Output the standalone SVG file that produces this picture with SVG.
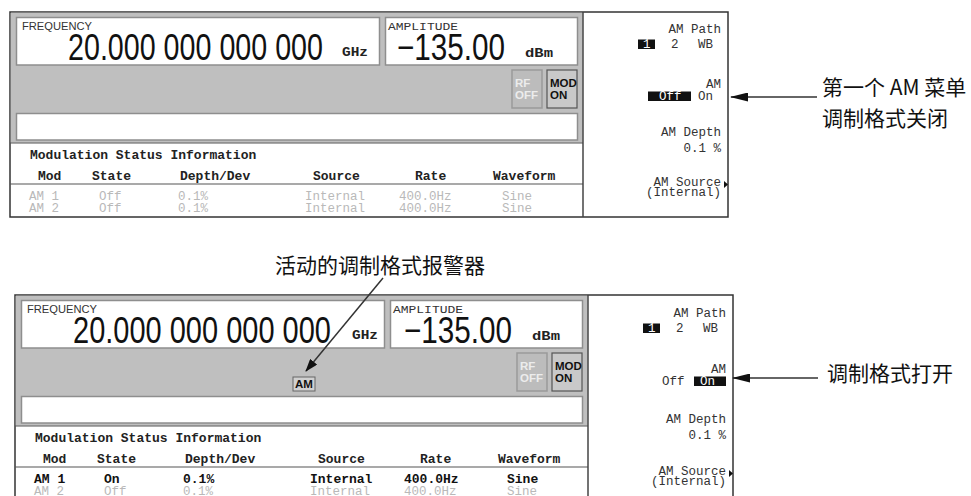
<svg xmlns="http://www.w3.org/2000/svg" width="971" height="496" viewBox="0 0 971 496">
<style>
.frame{fill:#fff;stroke:#333;stroke-width:1.5}
.gray{fill:#bfbfbf}
.box{fill:#fff;stroke:#8e8e8e;stroke-width:1.5}
.lbl{font-family:"Liberation Sans",Arial,sans-serif;font-size:11px;fill:#333}
.lblm{font-family:"Liberation Mono",monospace;font-size:11.5px;fill:#333}
.big{font-family:"Liberation Sans",Arial,sans-serif;font-size:37px;fill:#111}
.unit{font-family:"Liberation Mono",monospace;font-weight:bold;font-size:13.5px;fill:#222}
.sk{font-family:"Liberation Mono",monospace;font-size:12.5px;fill:#333;text-anchor:end}
.skl{font-family:"Liberation Mono",monospace;font-size:12.5px;fill:#333}
.inv{font-family:"Liberation Mono",monospace;font-size:12.5px;fill:#fff}
.hl{fill:#111}
.hd{font-family:"Liberation Mono",monospace;font-weight:bold;font-size:13px;fill:#222}
.dim{font-family:"Liberation Mono",monospace;font-size:12.5px;fill:#b9b9b9}
.act{font-family:"Liberation Mono",monospace;font-weight:bold;font-size:13px;fill:#111}
.btnoff{fill:#bcbcbc;stroke:#9a9a9a;stroke-width:1.5}
.btnon{fill:#c9c9c9;stroke:#555;stroke-width:1.2}
.btxt{font-family:"Liberation Sans",Arial,sans-serif;font-weight:bold;font-size:11.5px}
.cn{font-family:"Noto Sans CJK SC","Noto Sans",sans-serif;font-size:21px;fill:#111}
.sep{stroke:#555;stroke-width:1.2}
.conn{stroke:#333;stroke-width:1.5;fill:none}
</style>
<defs>
<marker id="ahBig" markerUnits="userSpaceOnUse" markerWidth="18" markerHeight="9" refX="17" refY="4.5" orient="auto"><path d="M0,0 L18,4.5 L0,9 Z" fill="#111"/></marker>
<marker id="ahSmall" markerUnits="userSpaceOnUse" markerWidth="13" markerHeight="9" refX="12" refY="4.5" orient="auto"><path d="M0,0 L13,4.5 L0,9 Z" fill="#111"/></marker>
</defs>
<rect width="971" height="496" fill="#fff"/>

<g id="panel-top">
 <rect class="frame" x="10" y="12" width="718" height="205"/>
 <rect class="gray" x="10.75" y="12.75" width="572" height="130"/>
 <rect class="box" x="16.5" y="17.5" width="363" height="47.5"/>
 <rect class="box" x="385.5" y="17.5" width="192" height="47.5"/>
 <rect class="box" x="16.5" y="113.5" width="561" height="26.5"/>
 <line class="sep" x1="10" y1="143" x2="583" y2="143"/>
 <line class="sep" x1="10" y1="184" x2="583" y2="184"/>
 <line x1="583" y1="12" x2="583" y2="217" stroke="#444" stroke-width="1.5"/>
 <text class="lbl" x="22" y="30" textLength="70" lengthAdjust="spacingAndGlyphs">FREQUENCY</text>
 <text class="big" x="68" y="60" textLength="255" lengthAdjust="spacingAndGlyphs">20.000 000 000 000</text>
 <text class="unit" x="342" y="56" textLength="26" lengthAdjust="spacingAndGlyphs">GHz</text>
 <text class="lblm" x="388" y="30" textLength="70" lengthAdjust="spacingAndGlyphs">AMPLITUDE</text>
 <text class="big" x="397" y="60" textLength="108" lengthAdjust="spacingAndGlyphs">−135.00</text>
 <text class="unit" x="525" y="57" textLength="28" lengthAdjust="spacingAndGlyphs">dBm</text>
 <rect class="btnoff" x="512" y="70" width="30" height="38"/>
 <text class="btxt" x="515" y="87" fill="#ececec">RF</text>
 <text class="btxt" x="515" y="99" fill="#ececec">OFF</text>
 <rect class="btnon" x="547" y="70" width="30" height="38"/>
 <text class="btxt" x="550" y="87" fill="#111">MOD</text>
 <text class="btxt" x="550" y="99" fill="#111">ON</text>
 <text class="hd" x="30" y="159">Modulation Status Information</text>
 <text class="hd" x="38" y="180">Mod</text>
 <text class="hd" x="92" y="180">State</text>
 <text class="hd" x="180" y="180">Depth/Dev</text>
 <text class="hd" x="313" y="180">Source</text>
 <text class="hd" x="415" y="180">Rate</text>
 <text class="hd" x="493" y="180">Waveform</text>
 <text class="dim" x="29" y="200">AM 1</text>
 <text class="dim" x="99" y="200">Off</text>
 <text class="dim" x="178" y="200">0.1%</text>
 <text class="dim" x="305" y="200">Internal</text>
 <text class="dim" x="399" y="200">400.0Hz</text>
 <text class="dim" x="502" y="200">Sine</text>
 <text class="dim" x="29" y="212">AM 2</text>
 <text class="dim" x="99" y="212">Off</text>
 <text class="dim" x="178" y="212">0.1%</text>
 <text class="dim" x="305" y="212">Internal</text>
 <text class="dim" x="399" y="212">400.0Hz</text>
 <text class="dim" x="502" y="212">Sine</text>
 <g id="softkeys-top">
  <text class="sk" x="721" y="33">AM Path</text>
  <rect class="hl" x="638" y="39.5" width="17" height="9.5"/>
  <text class="inv" x="643" y="48">1</text>
  <text class="skl" x="671" y="48">2</text>
  <text class="skl" x="698" y="48">WB</text>
  <text class="sk" x="721" y="88">AM</text>
  <rect class="hl" x="648" y="91.5" width="43" height="9.5"/>
  <text class="inv" x="659" y="100">Off</text>
  <text class="skl" x="698" y="100">On</text>
  <text class="sk" x="721" y="136">AM Depth</text>
  <text class="sk" x="721" y="152">0.1 %</text>
  <text class="sk" x="721" y="186">AM Source</text>
  <text class="sk" x="721" y="196">(Internal)</text>
  <polygon points="724,181 728,184.5 724,188" fill="#111"/>
 </g>
</g>

<g id="panel-bottom" transform="translate(5,283)">
 <rect class="frame" x="10" y="12" width="718" height="205"/>
 <rect class="gray" x="10.75" y="12.75" width="572" height="130"/>
 <rect class="box" x="16.5" y="17.5" width="363" height="47.5"/>
 <rect class="box" x="385.5" y="17.5" width="192" height="47.5"/>
 <rect class="box" x="16.5" y="113.5" width="561" height="26.5"/>
 <line class="sep" x1="10" y1="143" x2="583" y2="143"/>
 <line class="sep" x1="10" y1="184" x2="583" y2="184"/>
 <line x1="583" y1="12" x2="583" y2="217" stroke="#444" stroke-width="1.5"/>
 <text class="lbl" x="22" y="30" textLength="70" lengthAdjust="spacingAndGlyphs">FREQUENCY</text>
 <text class="big" x="68" y="60" textLength="258" lengthAdjust="spacingAndGlyphs">20.000 000 000 000</text>
 <text class="unit" x="347" y="56" textLength="26" lengthAdjust="spacingAndGlyphs">GHz</text>
 <text class="lblm" x="388" y="30" textLength="70" lengthAdjust="spacingAndGlyphs">AMPLITUDE</text>
 <text class="big" x="399" y="60" textLength="108" lengthAdjust="spacingAndGlyphs">−135.00</text>
 <text class="unit" x="527" y="57" textLength="28" lengthAdjust="spacingAndGlyphs">dBm</text>
 <rect class="btnoff" x="512" y="70" width="30" height="38"/>
 <text class="btxt" x="515" y="87" fill="#ececec">RF</text>
 <text class="btxt" x="515" y="99" fill="#ececec">OFF</text>
 <rect class="btnon" x="547" y="70" width="30" height="38"/>
 <text class="btxt" x="550" y="87" fill="#111">MOD</text>
 <text class="btxt" x="550" y="99" fill="#111">ON</text>
 <g id="annunciator-am">
  <rect x="288" y="94" width="22" height="14" fill="#d0d0d0" stroke="#666" stroke-width="1"/>
  <text class="btxt" x="299" y="105" fill="#111" text-anchor="middle">AM</text>
 </g>
 <text class="hd" x="30" y="159">Modulation Status Information</text>
 <text class="hd" x="38" y="180">Mod</text>
 <text class="hd" x="92" y="180">State</text>
 <text class="hd" x="180" y="180">Depth/Dev</text>
 <text class="hd" x="313" y="180">Source</text>
 <text class="hd" x="415" y="180">Rate</text>
 <text class="hd" x="493" y="180">Waveform</text>
 <text class="act" x="29" y="200">AM 1</text>
 <text class="act" x="99" y="200">On</text>
 <text class="act" x="178" y="200">0.1%</text>
 <text class="act" x="305" y="200">Internal</text>
 <text class="act" x="399" y="200">400.0Hz</text>
 <text class="act" x="502" y="200">Sine</text>
 <text class="dim" x="29" y="212">AM 2</text>
 <text class="dim" x="99" y="212">Off</text>
 <text class="dim" x="178" y="212">0.1%</text>
 <text class="dim" x="305" y="212">Internal</text>
 <text class="dim" x="399" y="212">400.0Hz</text>
 <text class="dim" x="502" y="212">Sine</text>
 <g id="softkeys-bottom">
  <text class="sk" x="721" y="34">AM Path</text>
  <rect class="hl" x="638" y="40.5" width="17" height="9.5"/>
  <text class="inv" x="643" y="49">1</text>
  <text class="skl" x="671" y="49">2</text>
  <text class="skl" x="698" y="49">WB</text>
  <text class="sk" x="721" y="90">AM</text>
  <text class="skl" x="657" y="102">Off</text>
  <rect class="hl" x="689" y="93.5" width="32" height="9.5"/>
  <text class="inv" x="695" y="102">On</text>
  <text class="sk" x="721" y="140">AM Depth</text>
  <text class="sk" x="721" y="156">0.1 %</text>
  <text class="sk" x="721" y="192">AM Source</text>
  <text class="sk" x="721" y="202">(Internal)</text>
  <polygon points="724,187 728,190.5 724,194" fill="#111"/>
 </g>
</g>

<g id="label-am-menu-off">
 <text class="cn" x="822" y="95">第一个 AM 菜单</text>
 <text class="cn" x="822" y="126">调制格式关闭</text>
</g>
<g id="label-annunciator">
 <text class="cn" x="275" y="273">活动的调制格式报警器</text>
</g>
<g id="label-am-on">
 <text class="cn" x="827" y="381">调制格式打开</text>
</g>

<g id="connectors">
 <line class="conn" x1="817" y1="97" x2="731" y2="97" marker-end="url(#ahBig)"/>
 <line class="conn" x1="383" y1="278" x2="306" y2="371" marker-end="url(#ahSmall)"/>
 <line class="conn" x1="818" y1="378" x2="733" y2="378" marker-end="url(#ahBig)"/>
</g>
</svg>
